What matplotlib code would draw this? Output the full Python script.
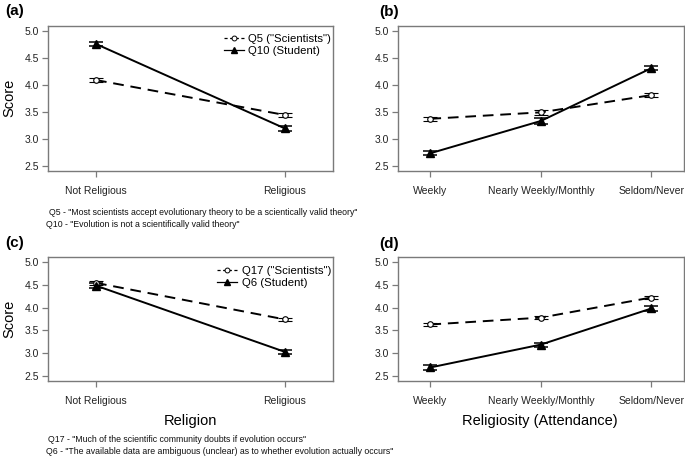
import matplotlib
matplotlib.use("Agg")
import matplotlib.pyplot as plt
from matplotlib.lines import Line2D

plt.rcParams['font.family'] = ['Liberation Sans', 'DejaVu Sans']

# ---- data ----
religion_cats = ["Not Religious", "Religious"]
attend_cats = ["Weekly", "Nearly Weekly/Monthly", "Seldom/Never"]

a_sci = [4.09, 3.44]
a_sci_err = [0.045, 0.04]
a_stu = [4.76, 3.19]
a_stu_err = [0.03, 0.05]

b_sci = [3.37, 3.49, 3.81]
b_sci_err = [0.04, 0.05, 0.04]
b_stu = [2.73, 3.33, 4.31]
b_stu_err = [0.04, 0.05, 0.04]

c_sci = [4.54, 3.74]
c_sci_err = [0.05, 0.035]
c_stu = [4.48, 3.03]
c_stu_err = [0.05, 0.035]

d_sci = [3.63, 3.78, 4.22]
d_sci_err = [0.035, 0.04, 0.035]
d_stu = [2.69, 3.19, 3.98]
d_stu_err = [0.05, 0.045, 0.045]

yticks = [2.5, 3.0, 3.5, 4.0, 4.5, 5.0]
ytick_labels = ["2.5", "3.0", "3.5", "4.0", "4.5", "5.0"]

W, H = 685, 457
fig = plt.figure(figsize=(W / 100, H / 100), dpi=100)


def box(l, r, t, b):
    return [l / W, 1 - b / H, (r - l) / W, (b - t) / H]


FRAME = '#7a7a7a'


def panel(rect, cats, sci, sci_err, stu, stu_err, xpad):
    ax = fig.add_axes(rect)
    x = list(range(1, len(cats) + 1))
    ax.errorbar(x, sci, yerr=sci_err, color='black', ls=(0, (5.5, 3.5)), lw=1.4,
                marker='o', ms=4, mfc='white', mec='black', mew=0.8,
                capsize=5.2, capthick=1.1, elinewidth=0.9)
    ax.errorbar(x, stu, yerr=stu_err, color='black', ls='-', lw=1.4,
                marker='^', ms=5.5, mfc='black', mec='black',
                capsize=5.2, capthick=1.1, elinewidth=0.9)
    ax.set_xlim(1 - xpad, len(cats) + xpad)
    ax.set_ylim(2.4, 5.1)
    ax.set_xticks(x)
    ax.set_xticklabels(cats, fontsize=7.5, color='#222222')
    ax.set_yticks(yticks)
    ax.set_yticklabels(ytick_labels, fontsize=7.5, color='#222222')
    for s in ax.spines.values():
        s.set_color(FRAME)
        s.set_linewidth(1.0)
    ax.tick_params(axis='x', length=4.5, width=0.9, color=FRAME, pad=6.5)
    ax.tick_params(axis='y', length=4.5, width=0.9, color=FRAME, pad=2)
    return ax


def add_legend(ax, lab1, lab2, right_px, top_px):
    h1 = Line2D([], [], color='black', ls=(0, (2.5, 2)), lw=0.9, marker='o', ms=3.5,
                mfc='white', mec='black', mew=0.7)
    h2 = Line2D([], [], color='black', ls='-', lw=0.9, marker='^', ms=4, mfc='black')
    ax.legend([h1, h2], [lab1, lab2], loc='upper right', frameon=False, fontsize=8.2,
              handlelength=1.75, handletextpad=0.4, labelspacing=0.25,
              borderaxespad=0, borderpad=0, numpoints=1,
              bbox_to_anchor=(right_px / W, 1 - top_px / H),
              bbox_transform=fig.transFigure)


ax_a = panel(box(48, 333, 25.7, 171), religion_cats, a_sci, a_sci_err, a_stu, a_stu_err, 0.254)
ax_a.set_ylabel("Score", fontsize=10.5, labelpad=6)
add_legend(ax_a, 'Q5 ("Scientists")', 'Q10 (Student)', 331, 33.5)

ax_b = panel(box(397.7, 684, 25.7, 171), attend_cats, b_sci, b_sci_err, b_stu, b_stu_err, 0.296)

ax_c = panel(box(48, 333, 257.3, 380.7), religion_cats, c_sci, c_sci_err, c_stu, c_stu_err, 0.254)
ax_c.set_ylabel("Score", fontsize=10.5, labelpad=6)
add_legend(ax_c, 'Q17 ("Scientists")', 'Q6 (Student)', 331, 265.5)

ax_d = panel(box(397.7, 684, 257.3, 380.7), attend_cats, d_sci, d_sci_err, d_stu, d_stu_err, 0.296)


def ftext(x, y, s, **kw):
    fig.text(x / W, 1 - y / H, s, **kw)


# panel letters
ftext(5, 11, "(a)", fontsize=11, fontweight='bold', va='center', ha='left')
ftext(379, 12, "(b)", fontsize=11, fontweight='bold', va='center', ha='left')
ftext(5, 243, "(c)", fontsize=11, fontweight='bold', va='center', ha='left')
ftext(379, 244, "(d)", fontsize=11, fontweight='bold', va='center', ha='left')

# axis titles
ftext(190.5, 421, "Religion", fontsize=10.5, ha='center', va='center')
ftext(540, 421, "Religiosity (Attendance)", fontsize=10.5, ha='center', va='center')

# footnotes
fn = dict(fontsize=6.3, ha='left', va='center', color='#111111')
ftext(49, 212.5, 'Q5 - "Most scientists accept evolutionary theory to be a scientically valid theory"', **fn)
ftext(45.5, 224.5, 'Q10 - "Evolution is not a scientifically valid theory"', **fn)
ftext(48, 440, 'Q17 - "Much of the scientific community doubts if evolution occurs"', **fn)
ftext(45.5, 451, 'Q6 - "The available data are ambiguous (unclear) as to whether evolution actually occurs"', **fn)

fig.savefig("out.png", dpi=100)
